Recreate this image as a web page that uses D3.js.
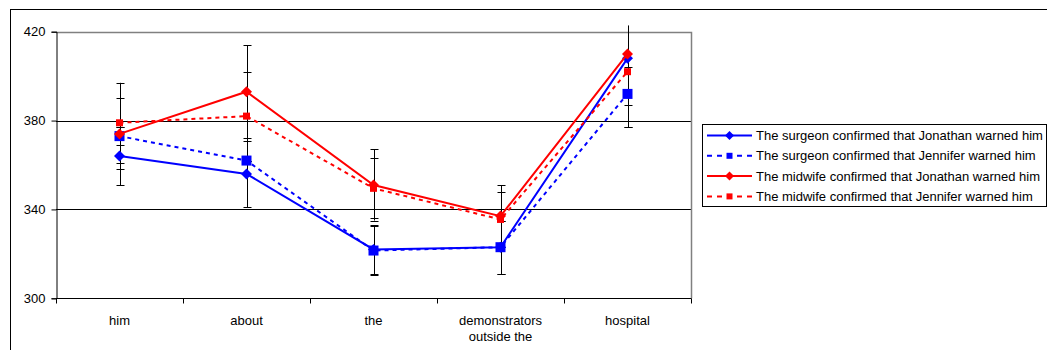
<!DOCTYPE html>
<html>
<head>
<meta charset="utf-8">
<script src="https://cdn.jsdelivr.net/npm/d3@7"></script>
<style>
  body { margin: 0; background: #fff; }
  text { font-family: "Liberation Sans", Arial, sans-serif; font-size: 13px; fill: #000; }
</style>
</head>
<body>
<div id="chart"></div>
<script>
// categories on the x axis (one label line per entry)
var categories = ["him", "about", "the", "demonstrators outside the", "hospital"];
var categoryLines = [["him"], ["about"], ["the"], ["demonstrators", "outside the"], ["hospital"]];
var yTicks = [300, 340, 380, 420];

// series values
var surgeonJonathan = [364, 356, 322, 323, 408];
var surgeonJennifer = [373, 362, 321.5, 323, 392];
var midwifeJonathan = [374, 393, 351, 337, 410];
var midwifeJennifer = [379, 382, 349.5, 335.5, 402];

// symmetric error bar sizes
var surgeonJonathanErr = [13, 15, 11, 12, 21];
var surgeonJenniferErr = [4, 0, 11, 12, 12];
var midwifeJonathanErr = [16, 21, 16, 14, 33];
var midwifeJenniferErr = [18, 20, 13.5, 12.5, 25];

var seriesNames = [
  "The surgeon confirmed that Jonathan warned him",
  "The surgeon confirmed that Jennifer warned him",
  "The midwife confirmed that Jonathan warned him",
  "The midwife confirmed that Jennifer warned him"
];

var series = [
  { name: seriesNames[0], values: surgeonJonathan, err: surgeonJonathanErr, color: "#0000ff", dash: null, marker: "diamond", size: 11 },
  { name: seriesNames[1], values: surgeonJennifer, err: surgeonJenniferErr, color: "#0000ff", dash: "4,4", marker: "square", size: 10 },
  { name: seriesNames[2], values: midwifeJonathan, err: midwifeJonathanErr, color: "#ff0000", dash: null, marker: "diamond", size: 11 },
  { name: seriesNames[3], values: midwifeJennifer, err: midwifeJenniferErr, color: "#ff0000", dash: "4,4", marker: "square", size: 7 }
];

var W = 1047, H = 350;
var plot = { left: 56, right: 691, top: 31.7, bottom: 298.3 };

var svg = d3.select("#chart").append("svg")
  .attr("width", W).attr("height", H);

// outer chart frame
svg.append("rect")
  .attr("x", 10.5).attr("y", 9.5)
  .attr("width", W + 20).attr("height", H + 20)
  .attr("fill", "#fff").attr("stroke", "#000").attr("stroke-width", 1);

var x = d3.scaleBand().domain(categories).range([plot.left, plot.right]);
var y = d3.scaleLinear().domain([300, 420]).range([plot.bottom, plot.top]);

// gridlines
svg.append("g").selectAll("line")
  .data(yTicks.filter(function(d) { return d > 300 && d < 420; }))
  .enter().append("line")
  .attr("x1", plot.left).attr("x2", plot.right)
  .attr("y1", function(d) { return Math.round(y(d)) + 0.5; })
  .attr("y2", function(d) { return Math.round(y(d)) + 0.5; })
  .attr("stroke", "#000");

// plot area border (top and right, grey)
svg.append("path")
  .attr("d", "M" + plot.left + "," + (Math.round(plot.top) + 0.5) + "H" + (plot.right + 0.5) + "V" + plot.bottom)
  .attr("fill", "none").attr("stroke", "#808080").attr("stroke-width", 1.5);

// y axis
var yAxis = svg.append("g")
  .attr("transform", "translate(" + (plot.left + 0.5) + ",0)")
  .call(d3.axisLeft(y).tickValues(yTicks).tickSize(5).tickPadding(6).tickFormat(d3.format("d")));
yAxis.select(".domain").attr("stroke", "#000");
yAxis.selectAll(".tick line").attr("stroke", "#000");
yAxis.selectAll("text").attr("font-size", "13px").attr("font-family", null);

// x axis: domain line plus boundary ticks
var xAxisG = svg.append("g").attr("transform", "translate(0," + (Math.round(plot.bottom) + 0.5) + ")");
xAxisG.append("line").attr("x1", plot.left).attr("x2", plot.right + 0.5).attr("stroke", "#000");
var bounds = categories.map(function(c) { return x(c); }).concat([plot.right]);
xAxisG.selectAll(".bt").data(bounds).enter().append("line")
  .attr("x1", function(d) { return Math.round(d) + 0.5; })
  .attr("x2", function(d) { return Math.round(d) + 0.5; })
  .attr("y1", 0).attr("y2", 5).attr("stroke", "#000");
var lbl = xAxisG.selectAll(".lbl").data(categories).enter().append("text")
  .attr("text-anchor", "middle")
  .attr("transform", function(d) { return "translate(" + (x(d) + x.bandwidth() / 2) + ",26)"; });
lbl.each(function(d, i) {
  d3.select(this).selectAll("tspan").data(categoryLines[i]).enter().append("tspan")
    .attr("x", 0).attr("dy", function(t, j) { return j === 0 ? 0 : "1.25em"; })
    .text(function(t) { return t; });
});

// clip for error bars (they run a little above the plot)
svg.append("clipPath").attr("id", "errclip").append("rect")
  .attr("x", plot.left).attr("y", plot.top - 6)
  .attr("width", plot.right - plot.left).attr("height", plot.bottom - plot.top + 6);

var cx = function(i) { return x(categories[i]) + x.bandwidth() / 2; };

// error bars
var eg = svg.append("g").attr("clip-path", "url(#errclip)");
series.forEach(function(s) {
  s.values.forEach(function(v, i) {
    var e = s.err[i];
    var px = Math.round(cx(i)) + 0.5;
    eg.append("line").attr("x1", px).attr("x2", px)
      .attr("y1", y(v + e)).attr("y2", y(v - e)).attr("stroke", "#000");
    [v + e, v - e].forEach(function(w) {
      eg.append("line").attr("x1", px - 4).attr("x2", px + 4)
        .attr("y1", Math.round(y(w)) + 0.5).attr("y2", Math.round(y(w)) + 0.5)
        .attr("stroke", "#000");
    });
  });
});

var line = d3.line()
  .x(function(d, i) { return cx(i); })
  .y(function(d) { return y(d); });

function drawMarker(g, type, size, color, px, py) {
  var h = size / 2;
  if (type === "diamond") {
    g.append("path")
      .attr("d", "M" + px + "," + (py - h) + "L" + (px + h) + "," + py + "L" + px + "," + (py + h) + "L" + (px - h) + "," + py + "Z")
      .attr("fill", color);
  } else {
    g.append("rect").attr("x", px - h).attr("y", py - h)
      .attr("width", size).attr("height", size).attr("fill", color);
  }
}

series.forEach(function(s) {
  var g = svg.append("g");
  g.append("path").datum(s.values)
    .attr("d", line)
    .attr("fill", "none").attr("stroke", s.color).attr("stroke-width", 2)
    .attr("stroke-dasharray", s.dash);
  s.values.forEach(function(v, i) {
    drawMarker(g, s.marker, s.size, s.color, cx(i), y(v));
  });
});

// legend
var legend = svg.append("g").attr("transform", "translate(702,124)");
legend.append("rect").attr("x", 0.5).attr("y", 0.5).attr("width", 344).attr("height", 82)
  .attr("fill", "#fff").attr("stroke", "#000");
series.forEach(function(s, i) {
  var ly = 11.5 + i * 20.3;
  var row = legend.append("g");
  row.append("line").attr("x1", 5).attr("x2", 50).attr("y1", ly).attr("y2", ly)
    .attr("stroke", s.color).attr("stroke-width", 2).attr("stroke-dasharray", s.dash ? "5,5" : null);
  drawMarker(row, s.marker, s.marker === "diamond" ? 9 : 6, s.color, 27.5, ly);
  row.append("text").attr("x", 54).attr("y", ly).attr("dy", "0.35em").text(s.name);
});
</script>
</body>
</html>
